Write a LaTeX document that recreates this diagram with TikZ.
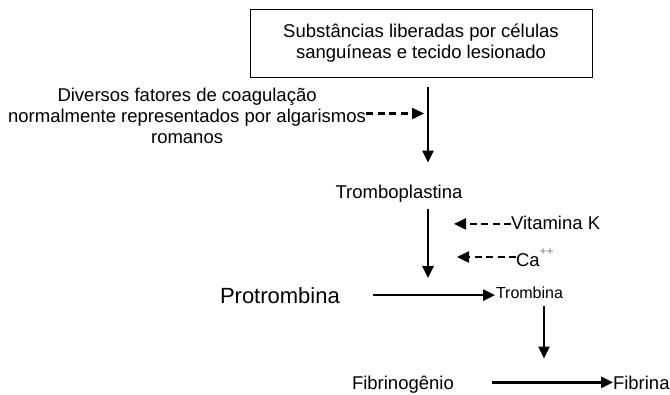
\documentclass[tikz,border=0pt]{standalone}
\usepackage{fontspec}
\setmainfont{Liberation Sans}
\usetikzlibrary{arrows.meta}

\begin{document}
\begin{tikzpicture}[x=1pt,y=-1pt,
        texto/.style={inner sep=0pt,outer sep=0pt,font=\fontsize{18.5}{21}\selectfont},
        seta/.style={line width=2.6pt,-{Triangle[length=12pt,width=11pt]}},
        tracejada/.style={line width=2.4pt,dash pattern=on 7pt off 4.5pt,-{Triangle[length=12pt,width=11pt]}}]
        \useasboundingbox (0,0) rectangle (670,394);
        %% Eixos das setas verticais
        \coordinate (eixo) at (428,0);
        \coordinate (eixo2) at (544,0);
        %% Caixa
        \node[texto,draw,line width=1pt,minimum width=342pt,minimum height=68pt,align=center] (subst) at (421,43) {Substâncias liberadas por células\\sanguíneas e tecido lesionado};
        %% Fatores
        \node[texto,anchor=east,align=center] (fatores) at (366,115.5) {Diversos fatores de coagulação\\normalmente representados por algarismos\\romanos};
        %% Substancias
        \node[texto,anchor=base] (trombop) at (399,198) {Tromboplastina};
        \node[texto,anchor=base west] (vitk) at (511,229) {Vitamina K};
        \node[texto,anchor=base west] (calcio) at (516,266) {Ca\raisebox{11pt}{\fontsize{12}{12}\selectfont\color{gray}++}};
        \node[texto,anchor=base west,font=\fontsize{22}{26}\selectfont] (protromb) at (220,303) {Protrombina};
        \node[texto,anchor=base west,font=\fontsize{16}{19}\selectfont] (tromb) at (496,298) {Trombina};
        \node[texto,anchor=base west] (fibrinog) at (352,389) {Fibrinogênio};
        \node[texto,anchor=base west] (fibrina) at (613,389) {Fibrina};
        %% Setas
        \draw[seta,shorten <=10pt,shorten >=22pt] (subst.south -| eixo) -- (trombop.north -| eixo);
        \draw[tracejada,shorten >=4pt] ([yshift=2pt]fatores.east) -- ([yshift=2pt]fatores.east -| eixo);
        \draw[tracejada,shorten >=26pt] ([yshift=-1.5pt]vitk.west) -- ([yshift=-1.5pt]vitk.west -| eixo);
        \draw[tracejada,shorten >=29pt] ([yshift=9pt]calcio.base west) -- ([yshift=9pt]calcio.base west -| eixo);
        \draw[seta,shorten <=7pt,shorten >=9pt] (trombop.south -| eixo) -- (protromb.north -| eixo);
        \draw[seta,shorten <=33pt,shorten >=1pt] (protromb.east) -- (protromb.east -| tromb.west);
        \draw[seta,shorten <=8pt,shorten >=17pt] (tromb.south -| eixo2) -- (fibrina.north -| eixo2);
        \draw[seta,shorten <=38pt] (fibrinog.east |- fibrina.west) -- (fibrina.west);
    \end{tikzpicture}
\end{document}
